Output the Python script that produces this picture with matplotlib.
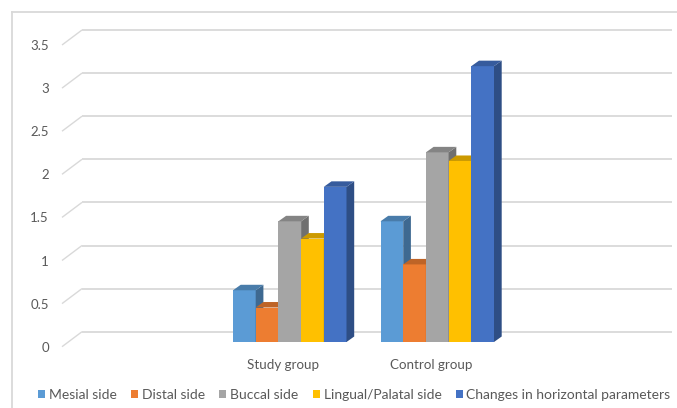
import matplotlib
matplotlib.use('Agg')
import matplotlib.pyplot as plt
import matplotlib.transforms as mtransforms
from matplotlib.patches import Polygon, Patch
from matplotlib.lines import Line2D
from matplotlib.colors import to_rgb
import numpy as np

# ---------------- data ----------------
categories = ['Study group', 'Control group']
series_names = ['Mesial side', 'Distal side', 'Buccal side',
                'Lingual/Palatal side', 'Changes in horizontal parameters']
mesial = [0.6, 1.4]
distal = [0.4, 0.9]
buccal = [1.4, 2.2]
lingual = [1.2, 2.1]
horizontal = [1.8, 3.2]
series_values = [mesial, distal, buccal, lingual, horizontal]
colors = ['#5B9BD5', '#ED7D31', '#A5A5A5', '#FFC000', '#4472C4']
y_ticks = [0, 0.5, 1, 1.5, 2, 2.5, 3, 3.5]
y_tick_labels = ['0', '0.5', '1', '1.5', '2', '2.5', '3', '3.5']

# ---------------- figure ----------------
W, H, DPI = 677, 408, 100
FONT = 'Lato'
TXT = '#595959'
GRID = '#D9D9D9'
plt.rcParams['font.family'] = [FONT, 'DejaVu Sans']

fig = plt.figure(figsize=(W / DPI, H / DPI), dpi=DPI)
fig.patch.set_facecolor('white')

# front plane of the 3-D box (pixels, top-origin)
left_px, right_px = 62, 652
top_px, bot_px = 45, 346.7
ax = fig.add_axes([left_px / W, (H - bot_px) / H,
                   (right_px - left_px) / W, (bot_px - top_px) / H])
ax.set_facecolor('none')
x0, x1 = -1.5, len(categories) + 0.5
ax.set_xlim(x0, x1)
ax.set_ylim(0, 3.5)
for s in ax.spines.values():
    s.set_visible(False)

px_x = (right_px - left_px) / (x1 - x0)   # pixels per x unit
px_y = (bot_px - top_px) / 3.5            # pixels per y unit

# back wall offset
back_dx, back_dy = 20, 15
bdx, bdy = back_dx / px_x, back_dy / px_y
for t in y_ticks:
    ax.plot([x0, x0 + bdx], [t, t + bdy], color=GRID, lw=1.0,
            clip_on=False, zorder=0, solid_capstyle='butt')
    ax.plot([x0 + bdx, x1 + bdx], [t + bdy, t + bdy], color=GRID, lw=1.3,
            clip_on=False, zorder=0, solid_capstyle='butt')

# bars (3-D look)
front_off = mtransforms.offset_copy(ax.transData, fig=fig, x=6.5, y=4.7, units='dots')
depth_x, depth_y = 7.7 / px_x, 5.5 / px_y
bw = 22.7 / px_x
xc = np.arange(len(categories))
n = len(series_values)


def shade(c, f):
    r, g, b = to_rgb(c)
    return (r * f, g * f, b * f)


for gi in range(len(categories)):
    for j, (vals, col) in enumerate(zip(series_values, colors)):
        xl = xc[gi] + (j - (n - 1) / 2) * bw - bw / 2
        xr = xl + bw
        h = vals[gi]
        z = 2 + j * 0.01 + gi
        ax.bar(xl, h, width=bw, align='edge', color=col, transform=front_off,
               zorder=z, clip_on=False, linewidth=0)
        side = Polygon([(xr, 0), (xr, h), (xr + depth_x, h + depth_y), (xr + depth_x, depth_y)],
                       closed=True, facecolor=shade(col, 0.68), edgecolor='none',
                       transform=front_off, zorder=z, clip_on=False)
        top = Polygon([(xl, h), (xr, h), (xr + depth_x, h + depth_y), (xl + depth_x, h + depth_y)],
                      closed=True, facecolor=shade(col, 0.8), edgecolor='none',
                      transform=front_off, zorder=z, clip_on=False)
        ax.add_patch(side)
        ax.add_patch(top)

# ticks
ax.set_yticks(y_ticks)
ax.set_yticklabels(y_tick_labels)
ax.set_xticks(xc)
ax.set_xticklabels(categories)
ax.tick_params(axis='y', length=0, pad=9.4, labelcolor=TXT, labelsize=9.5)
ax.tick_params(axis='x', length=0, pad=9.0, labelcolor=TXT, labelsize=9.6)

# chart border (left and top, cropped picture)
fig.add_artist(Line2D([11.5 / W, 11.5 / W], [0, 1 - 11.5 / H], color=GRID, lw=1.3,
                      transform=fig.transFigure))
fig.add_artist(Line2D([11.5 / W, 1], [1 - 11.5 / H, 1 - 11.5 / H], color=GRID, lw=1.3,
                      transform=fig.transFigure))

# legend
handles = [Patch(facecolor=c, edgecolor='none') for c in colors]
LFS = 10
fs_px = LFS * DPI / 72
leg = fig.legend(handles, series_names, loc='center', ncol=5,
                 bbox_to_anchor=(354.5 / W, (H - 395) / H), frameon=False,
                 fontsize=LFS, handlelength=7 / fs_px, handleheight=7 / fs_px,
                 handletextpad=4 / fs_px, columnspacing=14 / fs_px,
                 borderpad=0, borderaxespad=0)
for t in leg.get_texts():
    t.set_color(TXT)

fig.savefig('out.png', dpi=DPI)
